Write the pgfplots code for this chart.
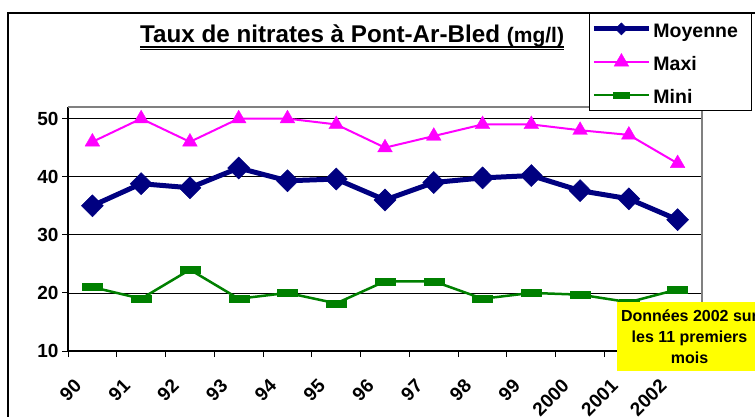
\documentclass[border=0pt]{standalone}
\usepackage{fontspec}
\setmainfont{Liberation Sans}
\usepackage{pgfplots}
\pgfplotsset{compat=1.18}
\definecolor{navyc}{HTML}{000080}
\definecolor{magc}{HTML}{FF00FF}
\definecolor{grc}{HTML}{008000}
\definecolor{yel}{HTML}{FFFF00}
\definecolor{bordergray}{HTML}{808080}
\begin{document}
\begin{tikzpicture}
\useasboundingbox (0pt,0pt) rectangle (755pt,-416pt);
\fill[white] (0pt,0pt) rectangle (755pt,-416pt);
\draw[line width=1.3pt] (8pt,-460pt) -- (8pt,-13pt) -- (800pt,-13pt);
% title
\node[anchor=base west, inner sep=0pt] (t) at (140pt,-42pt) {\fontsize{24.2}{28}\selectfont\bfseries Taux de nitrates à Pont-Ar-Bled \fontsize{21}{24}\selectfont(mg/l)};
\draw[line width=1.6pt] ([yshift=-5pt]t.base west) -- ([yshift=-5pt]t.base east);
\draw[line width=0.8pt] ([yshift=-7.6pt]t.base west) -- ([yshift=-7.6pt]t.base east);
\begin{axis}[
 at={(68pt,-351pt)}, anchor=south west,
 scale only axis, width=634pt, height=244pt,
 xmin=-0.5, xmax=12.5, ymin=10, ymax=52,
 clip=false,
 axis x line*=bottom, axis y line*=left,
 axis line style={line width=1.3pt, black, -},
 xtick={0,...,12},
 xticklabels={90,91,92,93,94,95,96,97,98,99,2000,2001,2002},
 minor xtick={-0.5,0.5,...,12.5},
 major x tick style={draw=none},
 minor x tick style={black, line width=1pt},
 minor tick length=6pt,
 major tick length=6pt,
 ytick={10,20,30,40,50},
 tick align=outside,
 ytick style={black, line width=1pt},
 ymajorgrids,
 major grid style={black, line width=0.7pt},
 tick label style={font=\fontsize{19}{22}\selectfont\bfseries},
 /pgf/number format/assume math mode=true,
 xticklabel style={xshift=-12pt, yshift=-23pt, rotate=45, anchor=east},
 legend style={at={(0.8218,1.3852)}, anchor=north west, draw=black, line width=0.8pt, fill=white,
   inner sep=2pt, row sep=6pt, font=\fontsize{19.5}{22}\selectfont\bfseries,
   nodes={inner sep=2pt, text height=20pt, text depth=3pt}},
 legend cell align=left,
 legend image code/.code={\draw[mark repeat=2,mark phase=2,#1] plot coordinates {(0pt,0pt) (27.5pt,0pt) (55pt,0pt)};},
 after end axis/.code={\draw[bordergray, line width=2pt] (rel axis cs:0,1) -- (rel axis cs:1,1) -- (rel axis cs:1,0);},
]
\addplot[navyc, line width=5pt, mark=diamond*, mark size=11pt, mark options={xscale=1.33, line width=0.5pt},
  legend image post style={mark size=6pt}] coordinates {
 (0,35.0) (1,38.8) (2,38.1) (3,41.5) (4,39.3) (5,39.6) (6,36.0) (7,39.0) (8,39.8) (9,40.2) (10,37.6) (11,36.2) (12,32.6)};
\addlegendentry{\mbox{Moyenne\kern9pt}}
\addplot[magc, line width=2pt, mark=triangle*, mark size=8.5pt, mark options={line width=0.3pt}] coordinates {
 (0,46) (1,50) (2,46) (3,50) (4,50) (5,49) (6,45) (7,47) (8,49) (9,49) (10,48) (11,47.2) (12,42.3)};
\addlegendentry{Maxi}
\addplot[grc, line width=2.5pt, mark=square*, mark size=5pt, mark options={xscale=2, yscale=0.7, line width=0.3pt},
  legend image post style={mark size=4pt}] coordinates {
 (0,21) (1,19) (2,24) (3,19) (4,20) (5,18.2) (6,22) (7,22) (8,19) (9,20) (10,19.7) (11,18.4) (12,20.6)};
\addlegendentry{Mini}
\end{axis}
\node[fill=yel, minimum width=145pt, minimum height=69pt, align=center, inner sep=0pt,
  font=\fontsize{16}{21}\selectfont\bfseries] at (689.5pt,-336.5pt) {Données 2002 sur\\les 11 premiers\\mois};
\end{tikzpicture}
\end{document}
